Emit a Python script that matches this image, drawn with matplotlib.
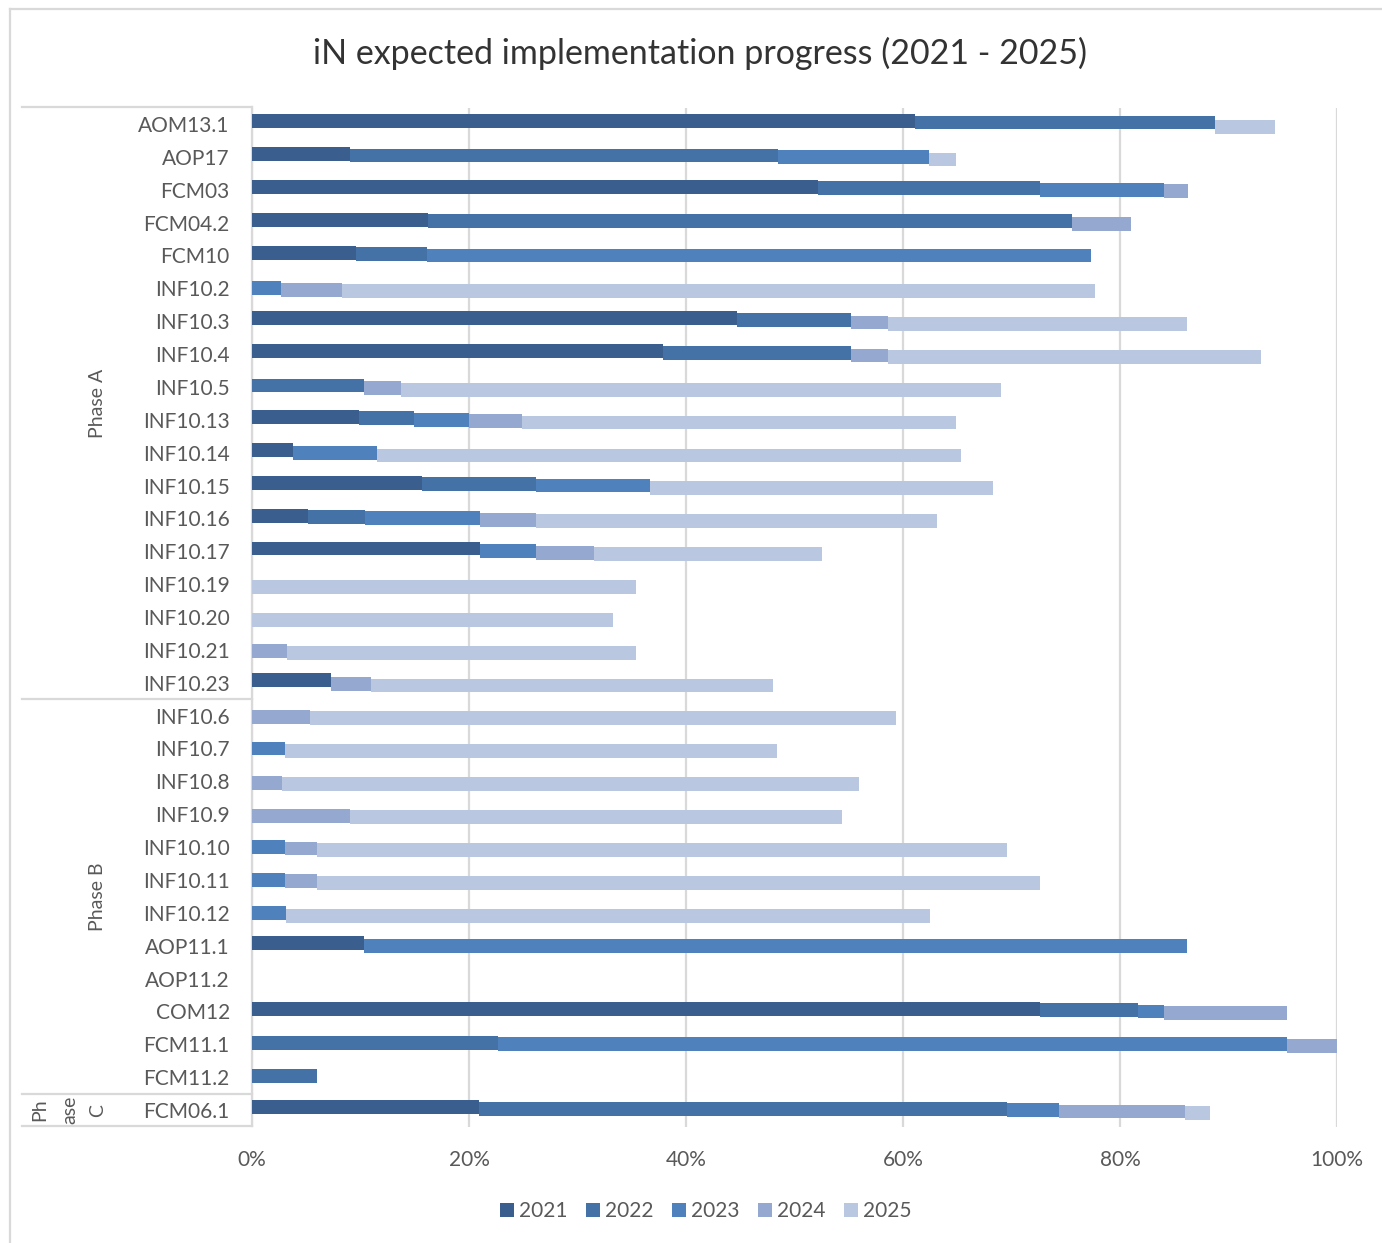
import matplotlib
matplotlib.use("Agg")
import matplotlib.pyplot as plt
import matplotlib.transforms as mtransforms
from matplotlib.patches import Patch
from matplotlib.lines import Line2D
import numpy as np

plt.rcParams['font.family'] = ['Lato', 'DejaVu Sans']

# Measures, top to bottom
categories = [
    "AOM13.1", "AOP17", "FCM03", "FCM04.2", "FCM10", "INF10.2", "INF10.3",
    "INF10.4", "INF10.5", "INF10.13", "INF10.14", "INF10.15", "INF10.16",
    "INF10.17", "INF10.19", "INF10.20", "INF10.21", "INF10.23",
    "INF10.6", "INF10.7", "INF10.8", "INF10.9", "INF10.10", "INF10.11",
    "INF10.12", "AOP11.1", "AOP11.2", "COM12", "FCM11.1", "FCM11.2",
    "FCM06.1",
]
phase_a = categories[0:18]
phase_b = categories[18:30]
phase_c = categories[30:31]

years = ["2021", "2022", "2023", "2024", "2025"]

# Expected cumulative progress (%) reached by the end of each year
prog_2021 = [61.1, 9.0, 52.2, 16.2, 9.6, 0.0, 44.7, 37.9, 0.0, 9.9, 3.8, 15.7,
             5.2, 21.0, 0.0, 0.0, 0.0, 7.3, 0.0, 0.0, 0.0, 0.0, 0.0, 0.0, 0.0,
             10.3, 0.0, 72.6, 0.0, 0.0, 20.9]
prog_2022 = [88.8, 48.5, 72.6, 75.6, 16.1, 0.0, 55.2, 55.2, 10.3, 14.9, 3.8,
             26.2, 10.4, 21.0, 0.0, 0.0, 0.0, 7.3, 0.0, 0.0, 0.0, 0.0, 0.0,
             0.0, 0.0, 10.3, 0.0, 81.7, 22.7, 6.0, 69.6]
prog_2023 = [88.8, 62.4, 84.1, 75.6, 77.3, 2.7, 55.2, 55.2, 10.3, 20.0, 11.5,
             36.7, 21.0, 26.2, 0.0, 0.0, 0.0, 7.3, 0.0, 3.0, 0.0, 0.0, 3.0,
             3.0, 3.1, 86.2, 0.0, 84.1, 95.4, 6.0, 74.4]
prog_2024 = [88.8, 62.4, 86.3, 81.0, 77.3, 8.3, 58.6, 58.6, 13.7, 24.9, 11.5,
             36.7, 26.2, 31.5, 0.0, 0.0, 3.2, 11.0, 5.3, 3.0, 2.8, 9.0, 6.0,
             6.0, 3.1, 86.2, 0.0, 95.4, 100.0, 6.0, 86.0]
prog_2025 = [94.3, 64.9, 86.3, 81.0, 77.3, 77.7, 86.2, 93.0, 69.0, 64.9, 65.3,
             68.3, 63.1, 52.5, 35.4, 33.3, 35.4, 48.0, 59.4, 48.4, 55.9, 54.4,
             69.6, 72.6, 62.5, 86.2, 0.0, 95.4, 100.0, 6.0, 88.3]

colors = ["#3a5f8e", "#4472a6", "#4f81bd", "#95a9d0", "#bac7e0"]
text_grey = "#595959"
line_grey = "#d9d9d9"

W, H = 1382, 1243
fig = plt.figure(figsize=(W / 100, H / 100), dpi=100)
fig.patch.set_facecolor("white")

ax_left, ax_right = 252 / W, 1337 / W
ax_top, ax_bottom = 1 - 107.5 / H, 1 - 1126.5 / H
ax = fig.add_axes([ax_left, ax_bottom, ax_right - ax_left, ax_top - ax_bottom])

series = [prog_2021, prog_2022, prog_2023, prog_2024, prog_2025]
y = np.arange(len(categories))
bar_h = 0.42
step = 0.042
prev = np.zeros(len(categories))
for j, (yr, vals) in enumerate(zip(years, series)):
    vals = np.asarray(vals, dtype=float)
    width = vals - prev
    off = (j - 2) * step
    ax.barh(y + off, width, left=prev, height=bar_h, color=colors[j],
            edgecolor="none", zorder=3)
    prev = vals

ax.set_xlim(0, 100)
ax.set_ylim(len(categories) - 0.5, -0.5)
ax.set_xticks(np.arange(0, 101, 20))
ax.set_xticklabels([f"{v}%" for v in range(0, 101, 20)])
ax.set_yticks(y)
ax.set_yticklabels(categories)
ax.tick_params(axis="both", length=0, colors=text_grey, labelsize=15)
ax.tick_params(axis="y", pad=16)
ax.tick_params(axis="x", pad=17)
ax.grid(axis="x", color=line_grey, linewidth=1.6, zorder=0)
ax.set_axisbelow(True)
for s in ["top", "right", "bottom"]:
    ax.spines[s].set_visible(False)
ax.spines["left"].set_color(line_grey)
ax.spines["left"].set_linewidth(1.6)

# Group separators of the multi-level category axis
trans = mtransforms.blended_transform_factory(fig.transFigure, ax.transData)
for yy in [-0.5, len(phase_a) - 0.5, len(phase_a) + len(phase_b) - 0.5,
           len(categories) - 0.5]:
    ax.add_line(Line2D([22 / W, ax_left], [yy, yy], transform=trans,
                       color=line_grey, linewidth=1.6, clip_on=False))

ya = (len(phase_a) - 1) / 2
yb = len(phase_a) + (len(phase_b) - 1) / 2
yc = len(phase_a) + len(phase_b)
ax.text(98 / W, ya, "Phase A", transform=trans, rotation=90, ha="center",
        va="center", color=text_grey, fontsize=14)
ax.text(98 / W, yb, "Phase B", transform=trans, rotation=90, ha="center",
        va="center", color=text_grey, fontsize=14)
for xp, piece in zip([40, 70, 98], ["Ph", "ase", "C"]):
    ax.text(xp / W, yc, piece, transform=trans, rotation=90, ha="center",
            va="center", color=text_grey, fontsize=14)

# Title
fig.text(700 / W, 1 - 53 / H, "iN expected implementation progress (2021 - 2025)",
         ha="center", va="center", fontsize=24.5, color="#333333")

# Legend
handles = [Patch(facecolor=c, edgecolor="none", label=yr)
           for c, yr in zip(colors, years)]
fig.legend(handles=handles, loc="center", bbox_to_anchor=(706 / W, 1 - 1211 / H),
           ncol=5, frameon=False, fontsize=15, labelcolor=text_grey,
           handlelength=0.65, handleheight=0.65, handletextpad=0.25,
           columnspacing=0.9)

# Outer chart border (top and left edges)
fig.add_artist(Line2D([10 / W, 1.0], [1 - 9 / H, 1 - 9 / H],
                      transform=fig.transFigure, color=line_grey, linewidth=1.6))
fig.add_artist(Line2D([10 / W, 10 / W], [0.0, 1 - 9 / H],
                      transform=fig.transFigure, color=line_grey, linewidth=1.6))

fig.savefig("out.png", dpi=100, facecolor="white")
